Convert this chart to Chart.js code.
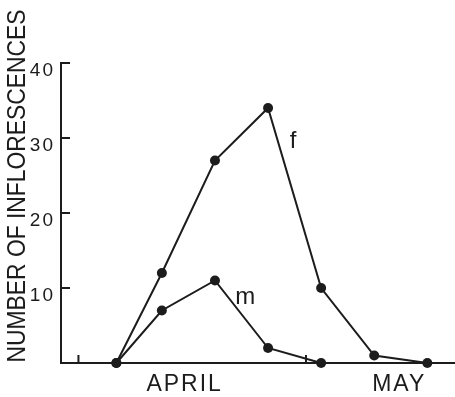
<!DOCTYPE html>
<html>
<head>
<meta charset="utf-8">
<script src="https://cdn.jsdelivr.net/npm/chart.js@4/dist/chart.umd.min.js"></script>
<style>
  html, body { margin: 0; padding: 0; background: #fff; }
  #wrap { width: 455px; height: 397px; }
</style>
</head>
<body>
<div id="wrap"><canvas id="chart" width="455" height="397"></canvas></div>
<script>
// days counted from 1 April
var femaleDays = [6, 12, 19, 26, 33, 40, 47];
var femaleCounts = [0, 12, 27, 34, 10, 1, 0];
var maleDays = [6, 12, 19, 26, 33];
var maleCounts = [0, 7, 11, 2, 0];

var yTickValues = [10, 20, 30, 40];
var monthTickDays = [1, 31];
var monthLabelDays = [15, 43.3];
var monthLabelNames = ['APRIL', 'MAY'];

var seriesTags = ['f', 'm'];
var seriesTagDays = [29.3, 23];
var seriesTagCounts = [29.5, 8.8];

var yTitle = 'NUMBER OF INFLORESCENCES';

var INK = '#1c1c1c';
var FONT = '"Liberation Sans", Arial, sans-serif';

function toPoints(xs, ys) {
    return xs.map(function (x, i) { return { x: x, y: ys[i] }; });
}

var extras = {
    id: 'extras',
    beforeDraw: function (chart) {
        chart.ctx.letterSpacing = '2px';
    },
    afterDraw: function (chart) {
        var ctx = chart.ctx;
        var xs = chart.scales.x, ys = chart.scales.y;
        var area = chart.chartArea;
        ctx.letterSpacing = '0px';
        ctx.save();
        ctx.strokeStyle = INK;
        ctx.lineWidth = 2;
        // inward tick marks
        yTickValues.forEach(function (v) {
            var py = ys.getPixelForValue(v);
            ctx.beginPath();
            ctx.moveTo(area.left, py);
            ctx.lineTo(area.left + 9, py);
            ctx.stroke();
        });
        monthTickDays.forEach(function (d) {
            var px = xs.getPixelForValue(d);
            ctx.beginPath();
            ctx.moveTo(px, area.bottom);
            ctx.lineTo(px, area.bottom - 8);
            ctx.stroke();
        });
        // series tags
        ctx.fillStyle = INK;
        ctx.font = '24px ' + FONT;
        ctx.textAlign = 'center';
        ctx.textBaseline = 'middle';
        seriesTags.forEach(function (t, i) {
            ctx.fillText(t, xs.getPixelForValue(seriesTagDays[i]), ys.getPixelForValue(seriesTagCounts[i]));
        });
        // rotated y title
        ctx.translate(18, 186);
        ctx.rotate(-Math.PI / 2);
        ctx.font = '25px ' + FONT;
        ctx.fillText(yTitle, 0, 0, 353);
        ctx.restore();
    }
};

new Chart(document.getElementById('chart'), {
    type: 'line',
    data: {
        datasets: [
            {
                label: 'f',
                data: toPoints(femaleDays, femaleCounts),
                borderColor: INK,
                backgroundColor: INK,
                borderWidth: 2,
                pointRadius: 5,
                pointBackgroundColor: INK,
                pointBorderWidth: 0,
                tension: 0,
                clip: false
            },
            {
                label: 'm',
                data: toPoints(maleDays, maleCounts),
                borderColor: INK,
                backgroundColor: INK,
                borderWidth: 2,
                pointRadius: 5,
                pointBackgroundColor: INK,
                pointBorderWidth: 0,
                tension: 0,
                clip: false
            }
        ]
    },
    options: {
        responsive: false,
        animation: false,
        layout: { autoPadding: false, padding: { top: 63, right: 0, bottom: 0, left: 0 } },
        plugins: {
            legend: { display: false },
            tooltip: { enabled: false }
        },
        scales: {
            x: {
                type: 'linear',
                min: -1.3,
                max: 50.65,
                afterBuildTicks: function (scale) {
                    scale.ticks = monthLabelDays.map(function (d) { return { value: d }; });
                },
                afterFit: function (scale) { scale.height = 34; },
                ticks: {
                    autoSkip: false,
                    maxRotation: 0,
                    padding: 8,
                    color: INK,
                    font: { family: FONT, size: 23 },
                    callback: function (value, i) { return monthLabelNames[i]; }
                },
                grid: { display: false, drawTicks: false },
                border: { display: true, color: INK, width: 2 }
            },
            y: {
                min: 0,
                max: 40,
                afterBuildTicks: function (scale) {
                    scale.ticks = yTickValues.map(function (v) { return { value: v }; });
                },
                afterFit: function (scale) { scale.width = 61; },
                ticks: {
                    padding: 6,
                    labelOffset: 8,
                    color: INK,
                    font: { family: FONT, size: 19 }
                },
                grid: { display: false, drawTicks: false },
                border: { display: true, color: INK, width: 2 }
            }
        }
    },
    plugins: [extras]
});
</script>
</body>
</html>
